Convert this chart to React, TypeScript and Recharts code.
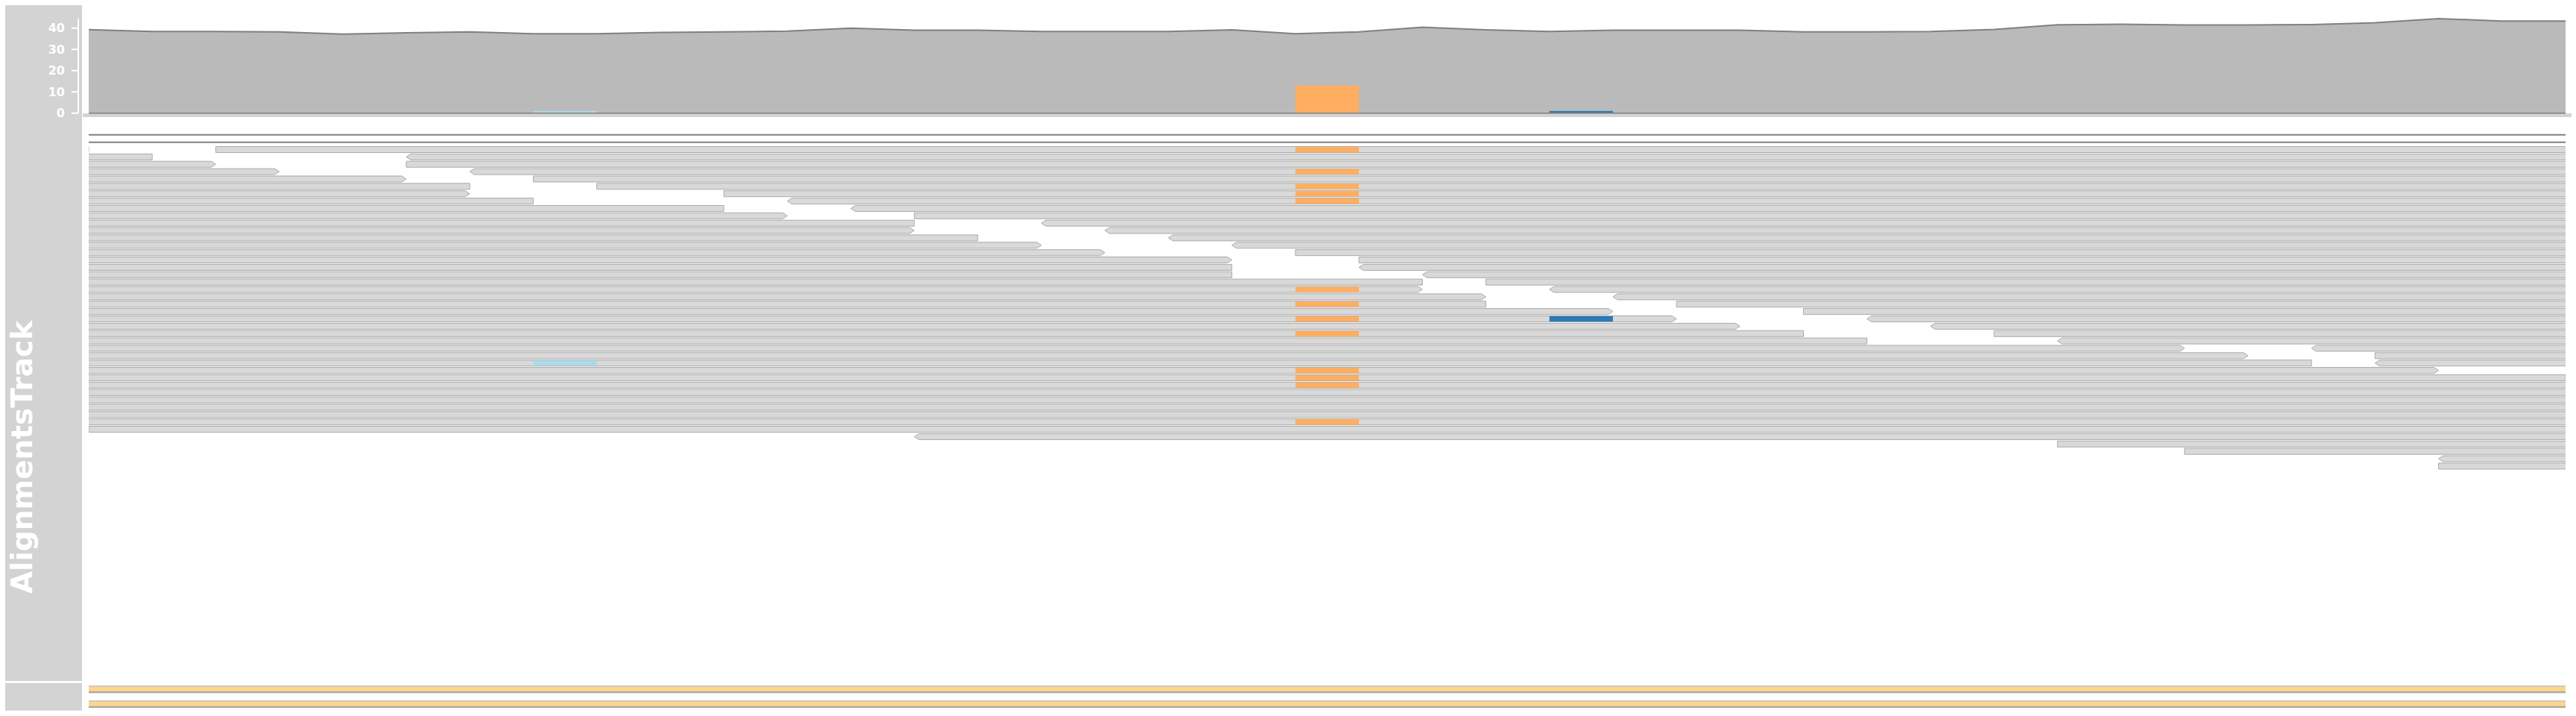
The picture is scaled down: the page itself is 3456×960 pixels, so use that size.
import { Area, Bar, BarChart, ComposedChart, ReferenceArea, ReferenceLine, XAxis, YAxis } from 'recharts';

// Genome window: 39 bases, positions are base boundaries 0..39
const WINDOW: [number, number] = [0, 39];

// coverage track (value at each base boundary)
const COV_POS = [0, 1, 2, 3, 4, 5, 6, 7, 8, 9, 10, 11, 12, 13, 14, 15, 16, 17, 18, 19, 20, 21, 22, 23, 24, 25, 26, 27, 28, 29, 30, 31, 32, 33, 34, 35, 36, 37, 38, 39];
const COV = [39.3, 38.4, 38.4, 38.2, 37.2, 37.8, 38.2, 37.4, 37.4, 38.0, 38.2, 38.6, 40.0, 39.0, 39.0, 38.4, 38.4, 38.4, 39.2, 37.4, 38.2, 40.4, 39.2, 38.4, 39.0, 39.0, 39.0, 38.2, 38.2, 38.4, 39.4, 41.6, 41.8, 41.5, 41.5, 41.7, 42.5, 44.5, 43.3, 43.3];
const COV_TICKS = [0, 10, 20, 30, 40];

// mismatch counts shown in the coverage track: [position, count, base]
const COV_MISMATCH: [number, number, string][] = [
  [7, 1, 'T'],
  [19, 13, 'A'],
  [23, 1, 'C'],
];

const BASE_COLORS: Record<string, string> = { A: '#FDAE61', C: '#2C7BB6', T: '#ABD9E9', G: '#D7191C' };

// spliced reads whose gaps span the window: [row, start, end]
const GAPPED: [number, number, number][] = [
  [0, -30, 50],
  [1, -30, 50],
];

// reads: [row, start, end, strand]
const READS: [number, number, number, '+' | '-'][] = [
  [2, -30, 0, '-'], [2, 2, 50, '+'],
  [3, -30, 1, '-'], [3, 5, 50, '-'],
  [4, -30, 2, '+'], [4, 5, 50, '+'],
  [5, -30, 3, '+'], [5, 6, 50, '-'],
  [6, -30, 5, '+'], [6, 7, 50, '+'],
  [7, -30, 6, '-'], [7, 8, 50, '+'],
  [8, -30, 6, '+'], [8, 10, 50, '+'],
  [9, -30, 7, '-'], [9, 11, 50, '-'],
  [10, -30, 10, '-'], [10, 12, 50, '-'],
  [11, -30, 11, '+'], [11, 13, 50, '+'],
  [12, -30, 13, '-'], [12, 15, 50, '-'],
  [13, -30, 13, '+'], [13, 16, 50, '-'],
  [14, -30, 14, '-'], [14, 17, 50, '-'],
  [15, -30, 15, '+'], [15, 18, 50, '-'],
  [16, -30, 16, '+'], [16, 19, 50, '+'],
  [17, -30, 18, '+'], [17, 20, 50, '+'],
  [18, -30, 18, '-'], [18, 20, 50, '-'],
  [19, -30, 18, '-'], [19, 21, 50, '-'],
  [20, -30, 21, '-'], [20, 22, 50, '+'],
  [21, -30, 21, '+'], [21, 23, 50, '-'],
  [22, -30, 22, '+'], [22, 24, 50, '-'],
  [23, -30, 22, '-'], [23, 25, 50, '+'],
  [24, -30, 24, '+'], [24, 27, 50, '+'],
  [25, -30, 25, '+'], [25, 28, 50, '-'],
  [26, -30, 26, '+'], [26, 29, 50, '-'],
  [27, -30, 27, '-'], [27, 30, 50, '+'],
  [28, -30, 28, '-'], [28, 31, 50, '-'],
  [29, -30, 33, '+'], [29, 35, 50, '-'],
  [30, -30, 34, '+'], [30, 36, 50, '+'],
  [31, -30, 35, '-'], [31, 36, 50, '-'],
  [32, -30, 37, '+'],
  [33, -30, 39, '-'],
  [34, -30, 50, '+'],
  [35, -30, 50, '-'],
  [36, -30, 50, '+'],
  [37, -30, 50, '-'],
  [38, -30, 50, '+'],
  [39, -30, 50, '-'],
  [40, 0, 50, '+'],
  [41, 13, 50, '-'],
  [42, 31, 50, '+'],
  [43, 33, 50, '+'],
  [44, 37, 50, '-'],
  [45, 37, 50, '+'],
];

// mismatching bases in reads: [row, position, base]
const MISMATCHES: [number, number, string][] = [
  [2, 19, 'A'], [5, 19, 'A'], [7, 19, 'A'], [8, 19, 'A'], [9, 19, 'A'],
  [21, 19, 'A'], [23, 19, 'A'], [25, 19, 'A'], [27, 19, 'A'],
  [32, 19, 'A'], [33, 19, 'A'], [34, 19, 'A'], [39, 19, 'A'],
  [25, 23, 'C'],
  [31, 7, 'T'],
];

// annotation features in the lower track: [row, start, end]
const FEATURES: [number, number, number][] = [
  [0, -10, 50],
  [1, -10, 50],
];

const FONT = '"DejaVu Sans", Verdana, sans-serif';
const TITLE_BG = '#D3D3D3';
const W = 3456;

const coverageData = COV_POS.map((pos, i) => ({ pos, cov: COV[i] }));

const pileupData = [
  ...GAPPED.map(([row, start, end]) => ({ row, span: [start, end], kind: 'gap' })),
  ...READS.map(([row, start, end, strand]) => ({ row, span: [start, end], kind: 'read', strand })),
  ...MISMATCHES.map(([row, pos, base]) => ({ row, span: [pos, pos + 1], kind: 'mismatch', base })),
];

const featureData = FEATURES.map(([row, start, end]) => ({ row, span: [start, end] }));

function PileupShape(props: any) {
  const { x, y, width, height, payload } = props;
  if (width == null || height == null) return null;
  const mid = y + height / 2;
  if (payload.kind === 'gap') {
    return <line x1={x} x2={x + width} y1={mid} y2={mid} stroke="#808080" strokeWidth={2} />;
  }
  if (payload.kind === 'mismatch') {
    return <rect x={x} y={y + 0.4} width={width} height={height - 0.8} fill={BASE_COLORS[payload.base]} />;
  }
  const a = Math.min(6, width / 2);
  const x2 = x + width;
  const pts =
    payload.strand === '+'
      ? [[x, y], [x2 - a, y], [x2, mid], [x2 - a, y + height], [x, y + height]]
      : [[x + a, y], [x2, y], [x2, y + height], [x + a, y + height], [x, mid]];
  return (
    <polygon
      points={pts.map((p) => p.join(',')).join(' ')}
      fill="#D9D9D9"
      stroke="#ABABAB"
      strokeWidth={1}
    />
  );
}

function FeatureShape(props: any) {
  const { x, y, width, height } = props;
  if (width == null) return null;
  return (
    <g>
      <rect x={x} y={y} width={width} height={height} fill="#FFD58A" />
      <rect x={x} y={y} width={width} height={1.8} fill="#C9C9C9" />
      <rect x={x} y={y + height - 2.3} width={width} height={2.3} fill="#A8A8A8" />
    </g>
  );
}

export default function App() {
  return (
    <div style={{ position: 'absolute', left: 0, top: 0, width: W, height: 960, background: '#fff', overflow: 'hidden' }}>
      {/* title panels */}
      <svg width={120} height={960} style={{ position: 'absolute', left: 0, top: 0 }}>
        <rect x={7} y={7} width={103} height={906} fill={TITLE_BG} />
        <rect x={7} y={915.7} width={103} height={37} fill={TITLE_BG} />
        <text
          x={43}
          y={613}
          transform="rotate(-90 43 613)"
          textAnchor="middle"
          fontFamily={FONT}
          fontWeight="bold"
          fontSize={39}
          fill="#FFFFFF"
        >
          AlignmentsTrack
        </text>
      </svg>
      {/* separator between coverage and pileup */}
      <div style={{ position: 'absolute', left: 111, top: 151.7, width: 3339, height: 5, background: TITLE_BG }} />

      {/* coverage */}
      <div style={{ position: 'absolute', left: 0, top: 0 }}>
        <ComposedChart width={W} height={175} data={coverageData} margin={{ top: 24.9, right: 14, bottom: 23.3, left: 0 }}>
          <XAxis type="number" dataKey="pos" domain={[-0.165, WINDOW[1]]} allowDataOverflow hide />
          <YAxis
            type="number"
            width={105}
            domain={[0, 'dataMax']}
            ticks={COV_TICKS}
            interval={0}
            tick={{ fill: '#FFFFFF', fontSize: 16, fontWeight: 'bold', fontFamily: FONT }}
            axisLine={{ stroke: '#FFFFFF', strokeWidth: 2 }}
            tickLine={{ stroke: '#FFFFFF', strokeWidth: 2 }}
            tickSize={9}
            tickMargin={9}
          />
          <Area
            type="linear"
            dataKey="cov"
            fill="#BABABA"
            fillOpacity={1}
            stroke="#808080"
            strokeWidth={2}
            dot={false}
            activeDot={false}
            isAnimationActive={false}
          />
          <ReferenceLine
            segment={[{ x: WINDOW[0], y: 0 }, { x: WINDOW[1], y: 0 }]}
            stroke="#808080"
            strokeWidth={1.5}
          />
          {COV_MISMATCH.map(([pos, count, base]) => (
            <ReferenceArea
              key={pos}
              x1={pos}
              x2={pos + 1}
              y1={0}
              y2={count}
              fill={BASE_COLORS[base]}
              fillOpacity={1}
              stroke="none"
            />
          ))}
        </ComposedChart>
      </div>

      {/* read pileup */}
      <div style={{ position: 'absolute', left: 0, top: 0 }}>
        <BarChart
          layout="vertical"
          width={W}
          height={960}
          data={pileupData}
          barSize={8}
          margin={{ top: 170.83, right: 14, bottom: 325.27, left: 119 }}
        >
          <XAxis type="number" domain={WINDOW} allowDataOverflow hide />
          <YAxis type="number" dataKey="row" domain={[-1, 46]} width={0} hide />
          <Bar dataKey="span" shape={PileupShape} isAnimationActive={false} />
        </BarChart>
      </div>

      {/* annotation features */}
      <div style={{ position: 'absolute', left: 0, top: 0 }}>
        <BarChart
          layout="vertical"
          width={W}
          height={960}
          data={featureData}
          barSize={10}
          margin={{ top: 914.2, right: 14, bottom: 6.05, left: 119 }}
        >
          <XAxis type="number" domain={WINDOW} allowDataOverflow hide />
          <YAxis type="number" dataKey="row" domain={[-0.5, 1.5]} width={0} hide />
          <Bar dataKey="span" shape={FeatureShape} isAnimationActive={false} />
        </BarChart>
      </div>
    </div>
  );
}
